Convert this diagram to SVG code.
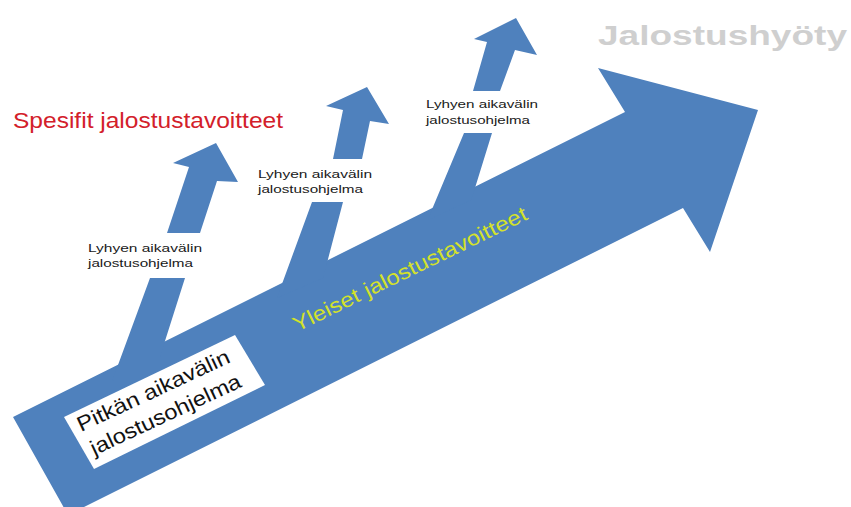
<svg xmlns="http://www.w3.org/2000/svg" width="851" height="507" viewBox="0 0 851 507">
<style>
.blue{fill:#4f81bd;stroke:none}
.box{fill:#ffffff;stroke:none}
.lbl{font-family:"Liberation Sans",Arial,sans-serif;font-size:11px;fill:#1a1a1a}
</style>
<rect width="851" height="507" fill="#ffffff"/>
<g id="connectors">
  <g id="main-arrow"><polygon class="blue" points="13,417 625,112 598,68 758,110 710,252 683,208 68,515"/></g>
  <g id="arrow-1"><polygon class="blue" points="112,381 118,365 150,278 167,233 189,167 173,163 216,143 238,182 217,181 200,233 185,278 165,341 160,357"/></g>
  <g id="arrow-2"><polygon class="blue" points="277,298 282,284 312,202 333,159 343,110 326,106 367,87 389,124 370,121 362,159 343,202 327,263 323,278"/></g>
  <g id="arrow-3"><polygon class="blue" points="428,220 433,207 464,133 473,91 487,42 474,39 516,18 537,55 515,50 500,91 492,133 475,188 471,200"/></g>
</g>
<g id="label-1">
  <rect class="box" x="84" y="233" width="124" height="45"/>
  <text class="lbl" x="88" y="252" textLength="114" lengthAdjust="spacingAndGlyphs">Lyhyen aikavälin</text>
  <text class="lbl" x="88" y="267" textLength="105" lengthAdjust="spacingAndGlyphs">jalostusohjelma</text>
</g>
<g id="label-2">
  <rect class="box" x="254" y="159" width="124" height="43"/>
  <text class="lbl" x="258" y="178" textLength="114" lengthAdjust="spacingAndGlyphs">Lyhyen aikavälin</text>
  <text class="lbl" x="258" y="193" textLength="105" lengthAdjust="spacingAndGlyphs">jalostusohjelma</text>
</g>
<g id="label-3">
  <rect class="box" x="422" y="91" width="122" height="42"/>
  <text class="lbl" x="426" y="108" textLength="112" lengthAdjust="spacingAndGlyphs">Lyhyen aikavälin</text>
  <text class="lbl" x="426" y="124" textLength="104" lengthAdjust="spacingAndGlyphs">jalostusohjelma</text>
</g>
<g id="long-term">
  <polygon class="box" points="64,417 235,335 265,385 94,469"/>
  <g transform="translate(81,432) rotate(-25)" font-family="Liberation Sans, Arial, sans-serif" font-size="21" fill="#111111">
    <text x="0" y="0" textLength="166" lengthAdjust="spacingAndGlyphs">Pitkän aikavälin</text>
    <text x="2" y="27" textLength="164" lengthAdjust="spacingAndGlyphs">jalostusohjelma</text>
  </g>
</g>
<g id="general-goals">
  <text transform="translate(297,332) rotate(-26)" font-family="Liberation Sans, Arial, sans-serif" font-size="21" fill="#d4e22a" textLength="258" lengthAdjust="spacingAndGlyphs">Yleiset jalostustavoitteet</text>
</g>
<g id="specific-goals">
  <text x="13" y="128" font-family="Liberation Sans, Arial, sans-serif" font-size="22" fill="#d3202a" textLength="270" lengthAdjust="spacingAndGlyphs">Spesifit jalostustavoitteet</text>
</g>
<g id="benefit">
  <text x="598" y="45" font-family="Liberation Sans, Arial, sans-serif" font-size="27" font-weight="bold" fill="#cfcfcf" textLength="249" lengthAdjust="spacingAndGlyphs">Jalostushyöty</text>
</g>
</svg>
